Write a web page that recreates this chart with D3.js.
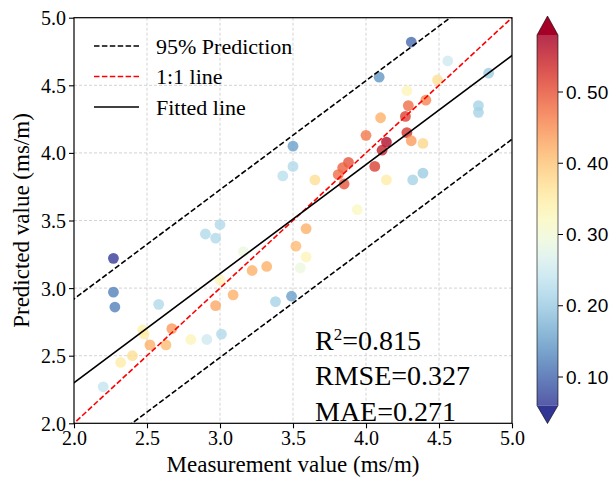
<!DOCTYPE html>
<html lang="en">
<head>
    <meta charset="UTF-8">
    <title>Measured vs predicted</title>
    <script src="https://d3js.org/d3.v7.min.js"></script>
    <style>
        body { margin: 0; background: #fff; }
        svg { display: block; }
        .serif { font-family: "Liberation Serif", "Times New Roman", serif; }
        .sans { font-family: "Liberation Sans", Arial, sans-serif; }
    </style>
</head>
<body>
<div id="container"></div>
<script>
// data
const measured = [2.27, 2.27, 2.28, 2.58, 2.90, 2.97, 3.00, 3.16, 3.00, 3.22, 3.09, 2.97, 2.47, 2.48, 2.67,
    2.52, 2.63, 2.80, 2.91, 3.01, 2.40, 2.32, 2.20, 3.94, 3.59, 3.52, 3.59, 3.55, 3.32, 3.38, 3.49,
    4.09, 4.10, 4.00, 4.14, 4.11, 4.06, 3.50, 3.50, 3.43, 3.65, 3.88, 3.84, 3.81, 3.85, 4.14,
    4.31, 4.56, 4.84, 4.49, 4.28, 4.41, 4.29, 4.27, 4.77, 4.77, 4.28, 4.31, 4.39, 4.32, 4.39];
const predicted = [3.22, 2.97, 2.86, 2.88, 3.40, 3.37, 3.47, 3.27, 3.06, 3.13, 2.95, 2.87, 2.69, 2.66, 2.70,
    2.58, 2.58, 2.62, 2.62, 2.66, 2.50, 2.45, 2.27, 3.58, 3.44, 3.31, 3.23, 3.15, 3.16, 2.90, 2.94,
    4.56, 4.26, 4.13, 4.08, 4.02, 3.90, 4.05, 3.90, 3.83, 3.80, 3.93, 3.89, 3.84, 3.77, 3.80,
    4.82, 4.68, 4.59, 4.54, 4.46, 4.39, 4.35, 4.27, 4.35, 4.30, 4.15, 4.09, 4.07, 3.80, 3.85];
const colorValue = [0.06, 0.12, 0.12, 0.22, 0.22, 0.22, 0.22, 0.29, 0.33, 0.42, 0.42, 0.43, 0.34, 0.35, 0.44,
    0.42, 0.41, 0.33, 0.25, 0.22, 0.37, 0.35, 0.24, 0.32, 0.42, 0.41, 0.33, 0.29, 0.42, 0.21, 0.15,
    0.14, 0.42, 0.47, 0.57, 0.55, 0.52, 0.15, 0.22, 0.23, 0.37, 0.50, 0.49, 0.48, 0.50, 0.35,
    0.10, 0.25, 0.20, 0.37, 0.33, 0.46, 0.48, 0.52, 0.21, 0.21, 0.53, 0.44, 0.38, 0.21, 0.20];

const axisTicks = [2.0, 2.5, 3.0, 3.5, 4.0, 4.5, 5.0];
const colorTicks = [0.10, 0.20, 0.30, 0.40, 0.50];
const colorTickLabels = ['0. 10', '0. 20', '0. 30', '0. 40', '0. 50'];
const colorRange = [0.06, 0.58];

// fitted line and 95% prediction band
const fitSlope = 0.807;
const fitIntercept = 0.686;
const bandHalf = 0.62;

const legendItems = ['95% Prediction', '1:1 line', 'Fitted line'];
const stats = ['R', '=0.815', 'RMSE=0.327', 'MAE=0.271'];

const data = measured.map((m, i) => ({ x: m, y: predicted[i], c: colorValue[i] }));

const W = 610, H = 477;
const mLeft = 74, mRight = 512, mTop = 17.7, mBottom = 423.3;

const svg = d3.select('#container').append('svg')
    .attr('width', W).attr('height', H);

const x = d3.scaleLinear().domain([2, 5]).range([mLeft, mRight]);
const y = d3.scaleLinear().domain([2, 5]).range([mBottom, mTop]);
const color = d3.scaleSequential(t => d3.interpolateRdYlBu(1 - t)).domain(colorRange).clamp(true);

svg.append('clipPath').attr('id', 'plotclip')
    .append('rect').attr('x', mLeft).attr('y', mTop)
    .attr('width', mRight - mLeft).attr('height', mBottom - mTop);

// grid
const grid = svg.append('g');
grid.selectAll('.gx').data(axisTicks.slice(1, -1)).enter().append('line')
    .attr('x1', d => x(d)).attr('x2', d => x(d))
    .attr('y1', mTop).attr('y2', mBottom)
    .attr('stroke', '#c8c8c8').attr('stroke-width', 0.8).attr('stroke-dasharray', '3,2');
grid.selectAll('.gy').data(axisTicks.slice(1, -1)).enter().append('line')
    .attr('y1', d => y(d)).attr('y2', d => y(d))
    .attr('x1', mLeft).attr('x2', mRight)
    .attr('stroke', '#c8c8c8').attr('stroke-width', 0.8).attr('stroke-dasharray', '3,2');

// points
svg.append('g').selectAll('circle')
    .data(data).enter().append('circle')
    .attr('cx', d => x(d.x))
    .attr('cy', d => y(d.y))
    .attr('r', 5.4)
    .attr('fill', d => color(d.c))
    .attr('fill-opacity', 0.78);

// lines
const lines = svg.append('g').attr('clip-path', 'url(#plotclip)');
const fit = v => fitSlope * v + fitIntercept;
const lineDefs = [
    { f: v => fit(v) + bandHalf, stroke: '#000', dash: '5.5,2.4' },
    { f: v => fit(v) - bandHalf, stroke: '#000', dash: '5.5,2.4' },
    { f: v => v, stroke: '#ff0000', dash: '5.5,2.4' },
    { f: fit, stroke: '#000', dash: null }
];
lineDefs.forEach(l => {
    lines.append('line')
        .attr('x1', x(1.5)).attr('y1', y(l.f(1.5)))
        .attr('x2', x(5.5)).attr('y2', y(l.f(5.5)))
        .attr('stroke', l.stroke).attr('stroke-width', 1.6)
        .attr('stroke-dasharray', l.dash);
});

// frame
svg.append('rect')
    .attr('x', mLeft).attr('y', mTop)
    .attr('width', mRight - mLeft).attr('height', mBottom - mTop)
    .attr('fill', 'none').attr('stroke', '#000').attr('stroke-width', 1.2);

// axes
const xAxis = svg.append('g').attr('transform', `translate(0,${mBottom})`)
    .call(d3.axisBottom(x).tickValues(axisTicks).tickFormat(d3.format('.1f')).tickSize(5).tickPadding(2));
const yAxis = svg.append('g').attr('transform', `translate(${mLeft},0)`)
    .call(d3.axisLeft(y).tickValues(axisTicks).tickFormat(d3.format('.1f')).tickSize(5).tickPadding(3));
[xAxis, yAxis].forEach(a => {
    a.select('.domain').remove();
    a.selectAll('line').attr('stroke', '#000').attr('stroke-width', 1.1);
    a.selectAll('text').attr('class', 'serif').attr('font-size', 20).attr('fill', '#000');
});
xAxis.selectAll('text').attr('dy', '0.75em');
yAxis.selectAll('text').attr('dy', '0.35em');

svg.append('text').attr('class', 'serif')
    .attr('x', (mLeft + mRight) / 2).attr('y', 472)
    .attr('text-anchor', 'middle').attr('font-size', 23)
    .text('Measurement value (ms/m)');

svg.append('text').attr('class', 'serif')
    .attr('transform', `translate(29,${(mTop + mBottom) / 2}) rotate(-90)`)
    .attr('text-anchor', 'middle').attr('font-size', 23)
    .text('Predicted value (ms/m)');

// legend
const legend = svg.append('g');
legendItems.forEach((t, i) => {
    const ly = 46 + i * 30.5;
    legend.append('line')
        .attr('x1', 94).attr('x2', 139).attr('y1', ly).attr('y2', ly)
        .attr('stroke', i === 1 ? '#ff0000' : '#000').attr('stroke-width', 1.6)
        .attr('stroke-dasharray', i === 2 ? null : '5.5,2.4');
    legend.append('text').attr('class', 'serif')
        .attr('x', 156).attr('y', ly + 7.5)
        .attr('font-size', 22)
        .text(t);
});

// statistics
const st = svg.append('g').attr('class', 'serif').attr('font-size', 28);
const r2 = st.append('text').attr('x', 315).attr('y', 350);
r2.append('tspan').text(stats[0]);
r2.append('tspan').attr('dy', -10).attr('font-size', 17).text('2');
r2.append('tspan').attr('dy', 10).text(stats[1]);
st.append('text').attr('x', 315).attr('y', 385).text(stats[2]);
st.append('text').attr('x', 315).attr('y', 421).text(stats[3]);

// colour bar
const cbX = 537, cbW = 21;
const cy = d3.scaleLinear().domain([0.1, 0.5]).range([377, 92]);
const cbTop = cy(colorRange[1]), cbBottom = cy(colorRange[0]);

const grad = svg.append('defs').append('linearGradient')
    .attr('id', 'cbgrad').attr('x1', 0).attr('y1', 1).attr('x2', 0).attr('y2', 0);
d3.range(0, 1.0001, 0.05).forEach(t => {
    grad.append('stop').attr('offset', t)
        .attr('stop-color', color(colorRange[0] + t * (colorRange[1] - colorRange[0])));
});

svg.append('rect')
    .attr('x', cbX).attr('y', cbTop)
    .attr('width', cbW).attr('height', cbBottom - cbTop)
    .attr('fill', 'url(#cbgrad)').attr('fill-opacity', 0.82);

svg.append('path')
    .attr('d', `M${cbX},${cbTop} L${cbX + cbW / 2},${cbTop - 19} L${cbX + cbW},${cbTop} Z`)
    .attr('fill', d3.interpolateRdYlBu(0));
svg.append('path')
    .attr('d', `M${cbX},${cbBottom} L${cbX + cbW / 2},${cbBottom + 18} L${cbX + cbW},${cbBottom} Z`)
    .attr('fill', d3.interpolateRdYlBu(1));

svg.append('path')
    .attr('d', `M${cbX},${cbTop} L${cbX + cbW / 2},${cbTop - 19} L${cbX + cbW},${cbTop} L${cbX + cbW},${cbBottom} L${cbX + cbW / 2},${cbBottom + 18} L${cbX},${cbBottom} Z`)
    .attr('fill', 'none').attr('stroke', '#000').attr('stroke-width', 0.6);

const cb = svg.append('g');
colorTicks.forEach((v, i) => {
    cb.append('line')
        .attr('x1', cbX + cbW).attr('x2', cbX + cbW + 5)
        .attr('y1', cy(v)).attr('y2', cy(v))
        .attr('stroke', '#000').attr('stroke-width', 1);
    cb.append('text').attr('class', 'sans')
        .attr('x', 566).attr('y', cy(v)).attr('dy', '0.35em')
        .attr('font-size', 19)
        .text(colorTickLabels[i]);
});
</script>
</body>
</html>
